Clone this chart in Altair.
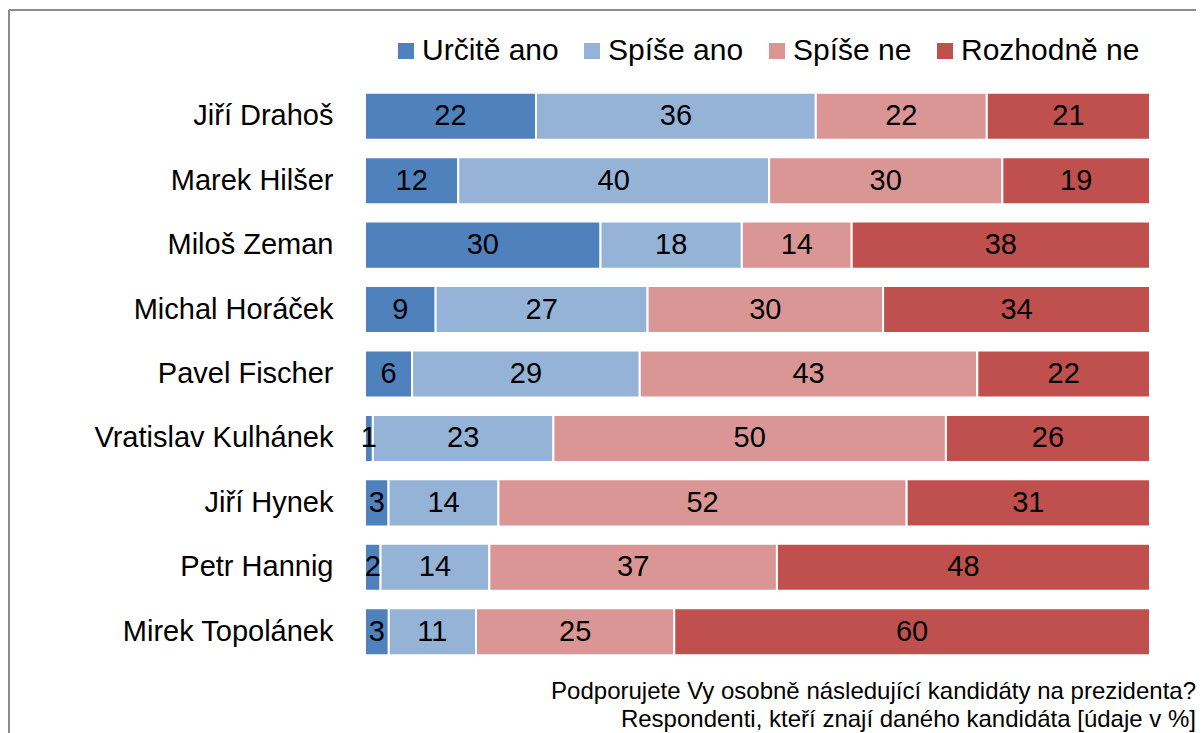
import altair as alt
import pandas as pd

candidates = ["Jiří Drahoš", "Marek Hilšer", "Miloš Zeman", "Michal Horáček",
              "Pavel Fischer", "Vratislav Kulhánek", "Jiří Hynek", "Petr Hannig",
              "Mirek Topolánek"]
series = ["Určitě ano", "Spíše ano", "Spíše ne", "Rozhodně ne"]
urcite_ano = [22, 12, 30, 9, 6, 1, 3, 2, 3]
spise_ano = [36, 40, 18, 27, 29, 23, 14, 14, 11]
spise_ne = [22, 30, 14, 30, 43, 50, 52, 37, 25]
rozhodne_ne = [21, 19, 38, 34, 22, 26, 31, 48, 60]
colors = ["#4F81BD", "#95B3D7", "#DA9694", "#C0504D"]
caption = ["Podporujete Vy osobně následující kandidáty na prezidenta?",
           "Respondenti, kteří znají daného kandidáta [údaje v %]"]

rows = []
for s_idx, (s, vals) in enumerate(zip(series, [urcite_ano, spise_ano, spise_ne, rozhodne_ne])):
    for c, v in zip(candidates, vals):
        rows.append({"kandidat": c, "odpoved": s, "poradi": s_idx, "hodnota": v})
df = pd.DataFrame(rows)

FONT = "Liberation Sans"

base = alt.Chart(df).transform_stack(
    stack="hodnota", groupby=["kandidat"], sort=[alt.SortField("poradi")],
    offset="normalize", as_=["x0", "x1"]
).transform_calculate(mid="(datum.x0 + datum.x1) / 2")

yenc = alt.Y("kandidat:N", sort=candidates, title=None,
             scale=alt.Scale(paddingInner=0.27, paddingOuter=0.135),
             axis=alt.Axis(domain=False, ticks=False, labelFontSize=29,
                           labelFont=FONT, labelColor="black", labelPadding=32,
                           labelLimit=400))

bars = base.mark_bar(stroke="white", strokeWidth=2).encode(
    x=alt.X("x0:Q", scale=alt.Scale(domain=[0, 1]), axis=None),
    x2="x1:Q",
    y=yenc,
    color=alt.Color("odpoved:N", sort=series,
                    scale=alt.Scale(domain=series, range=colors),
                    legend=alt.Legend(title=None, orient="none", legendX=26, legendY=-48,
                                      direction="horizontal", symbolType="square",
                                      symbolSize=256, symbolStrokeWidth=0,
                                      labelFontSize=30, labelFont=FONT, labelColor="black",
                                      labelOffset=1, columnPadding=18, labelLimit=400)),
)

labels = base.mark_text(fontSize=29, font=FONT, color="black").encode(
    x=alt.X("mid:Q", scale=alt.Scale(domain=[0, 1])),
    y=alt.Y("kandidat:N", sort=candidates),
    text="hodnota:Q",
)

cap_df = pd.DataFrame({"text": caption, "line": [0, 1]})
cap1 = alt.Chart(cap_df).transform_filter("datum.line == 0").mark_text(
    fontSize=24, font=FONT, color="black", align="right", baseline="middle"
).encode(x=alt.value(831), y=alt.value(608), text="text:N")
cap2 = alt.Chart(cap_df).transform_filter("datum.line == 1").mark_text(
    fontSize=24, font=FONT, color="black", align="right", baseline="middle"
).encode(x=alt.value(831), y=alt.value(636), text="text:N")

border_v = alt.Chart(pd.DataFrame({"a": [0]})).mark_rule(color="#8c8c8c", strokeWidth=2, clip=False).encode(
    x=alt.value(-356), y=alt.value(-74), y2=alt.value(720))
border_h = alt.Chart(pd.DataFrame({"a": [0]})).mark_rule(color="#8c8c8c", strokeWidth=2, clip=False).encode(
    x=alt.value(-356), x2=alt.value(900), y=alt.value(-74))

chart = alt.layer(bars, labels, cap1, cap2, border_v, border_h).properties(
    width=785, height=580,
    padding={"left": 357, "top": 76, "right": 46, "bottom": 90},
    autosize=alt.AutoSizeParams(type="none"),
).configure_view(stroke=None)

chart.save("out.html", embed_options={"renderer": "svg", "actions": False})
